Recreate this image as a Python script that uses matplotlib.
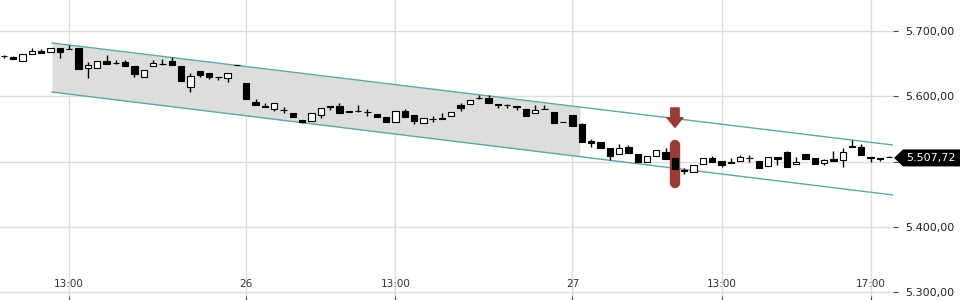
import matplotlib.pyplot as plt
import matplotlib.transforms as mtransforms
from matplotlib.patches import Polygon
import numpy as np

# 15-minute candles
opens = [5662.0, 5660.2, 5654.0, 5664.8, 5669.4, 5668.0, 5674.0, 5673.0, 5674.0, 5643.4,
         5643.4, 5654.0, 5651.0, 5652.6, 5646.5, 5629.6, 5646.5, 5649.5, 5654.0, 5646.5,
         5614.3, 5638.8, 5635.7, 5629.6, 5628.0, 5648.0, 5620.4, 5591.3, 5585.2, 5580.6,
         5579.3, 5574.5, 5563.8, 5562.3, 5571.4, 5585.2, 5585.2, 5576.0, 5577.6, 5576.5,
         5573.0, 5568.4, 5560.7, 5577.6, 5571.4, 5559.2, 5565.8, 5566.8, 5569.9, 5586.7,
         5588.3, 5597.5, 5597.5, 5588.3, 5587.2, 5585.2, 5580.6, 5574.5, 5581.0, 5576.0,
         5561.0, 5571.4, 5557.7, 5531.6, 5530.1, 5520.9, 5511.7, 5522.4, 5511.7, 5499.5,
         5508.7, 5514.8, 5505.6, 5486.5, 5484.2, 5496.4, 5505.6, 5501.0, 5499.5, 5501.0,
         5506.0, 5501.0, 5493.3, 5507.1, 5514.8, 5496.4, 5511.7, 5505.6, 5497.9, 5504.1,
         5502.5, 5524.0, 5522.4, 5507.1, 5505.6, 5507.8]
highs = [5663.3, 5661.0, 5665.5, 5674.0, 5672.5, 5674.5, 5674.5, 5678.6, 5674.5, 5652.6,
         5654.5, 5663.3, 5655.6, 5655.6, 5647.0, 5641.0, 5655.6, 5657.0, 5660.0, 5647.0,
         5635.7, 5639.3, 5636.0, 5630.0, 5636.0, 5648.3, 5621.0, 5596.0, 5589.8, 5590.3,
         5583.7, 5575.0, 5564.2, 5575.0, 5582.7, 5585.7, 5589.8, 5578.0, 5586.7, 5580.6,
         5573.5, 5569.0, 5578.0, 5580.6, 5572.0, 5567.3, 5569.9, 5574.5, 5576.5, 5589.8,
         5594.9, 5602.1, 5602.1, 5588.8, 5587.7, 5585.7, 5581.0, 5586.7, 5586.7, 5576.5,
         5561.0, 5572.0, 5559.2, 5534.7, 5530.6, 5521.4, 5527.0, 5525.5, 5512.2, 5509.2,
         5518.4, 5520.9, 5506.1, 5490.3, 5495.4, 5506.1, 5508.7, 5501.5, 5505.6, 5510.2,
         5510.2, 5501.5, 5507.6, 5507.6, 5516.3, 5507.1, 5512.2, 5506.1, 5504.1, 5516.3,
         5520.9, 5533.2, 5527.0, 5507.6, 5506.1, 5508.0]
lows = [5658.7, 5656.5, 5653.5, 5664.5, 5666.0, 5667.5, 5658.7, 5672.0, 5641.5, 5628.0,
        5643.0, 5649.0, 5650.0, 5646.0, 5629.6, 5629.0, 5646.0, 5648.5, 5647.5, 5623.0,
        5606.6, 5629.6, 5626.6, 5625.0, 5622.0, 5647.3, 5595.5, 5586.0, 5583.2, 5577.6,
        5574.5, 5568.0, 5559.2, 5561.8, 5566.8, 5579.1, 5574.0, 5575.6, 5576.3, 5569.9,
        5568.0, 5560.2, 5560.2, 5568.0, 5557.7, 5558.7, 5560.7, 5565.0, 5569.4, 5577.6,
        5587.8, 5596.5, 5589.3, 5582.2, 5582.2, 5579.1, 5569.4, 5574.0, 5580.0, 5558.7,
        5560.5, 5554.0, 5529.6, 5522.4, 5520.4, 5502.5, 5511.2, 5512.8, 5499.0, 5499.0,
        5508.2, 5503.6, 5488.3, 5481.1, 5483.7, 5495.9, 5499.0, 5491.8, 5497.4, 5500.5,
        5499.5, 5489.8, 5492.8, 5494.9, 5491.3, 5496.0, 5503.6, 5495.9, 5494.9, 5500.5,
        5491.8, 5522.0, 5509.7, 5499.5, 5501.0, 5507.5]
closes = [5661.5, 5657.2, 5665.0, 5669.4, 5666.3, 5674.0, 5668.0, 5672.5, 5642.0, 5648.0,
          5654.0, 5649.5, 5650.5, 5646.5, 5634.0, 5640.3, 5651.0, 5649.0, 5648.0, 5623.5,
          5631.0, 5632.7, 5629.6, 5629.0, 5635.7, 5647.5, 5596.0, 5586.7, 5583.7, 5589.8,
          5578.8, 5568.4, 5560.7, 5574.5, 5582.2, 5583.7, 5574.5, 5577.6, 5576.8, 5575.5,
          5568.4, 5560.7, 5577.6, 5568.4, 5562.3, 5566.8, 5565.0, 5565.3, 5576.0, 5582.2,
          5594.4, 5597.0, 5589.8, 5586.7, 5586.2, 5583.7, 5569.9, 5579.1, 5580.3, 5559.2,
          5560.5, 5554.6, 5530.1, 5528.6, 5520.9, 5508.7, 5520.9, 5513.3, 5499.5, 5508.7,
          5517.9, 5504.1, 5488.8, 5485.2, 5494.9, 5505.6, 5499.5, 5494.9, 5497.9, 5507.1,
          5505.2, 5490.3, 5507.1, 5504.1, 5491.8, 5499.5, 5504.1, 5496.4, 5502.5, 5501.0,
          5514.8, 5522.4, 5510.2, 5505.6, 5504.1, 5507.72]

tick_pos = [7, 26, 42, 61, 77, 93]
tick_labels = ["13:00", "26", "13:00", "27", "13:00", "17:00"]
price_ticks = [5300, 5400, 5500, 5600, 5700]

# trend channel
channel_x = [5.15, 95.4]
channel_upper = [5681.7, 5525.5]
channel_lower = [5606.6, 5449.0]
shade_end = 61.8

# signal marker
signal_idx = 72
arrow_from, arrow_to = 5582.2, 5552.5
bar_from, bar_to = 5525.5, 5467.3


def de_fmt(v):
    return f"{v:,.2f}".replace(",", "X").replace(".", ",").replace("X", ".")


x = np.arange(len(opens))
o = np.array(opens)
c = np.array(closes)
up = c >= o
last = closes[-1]

fig = plt.figure(figsize=(9.6, 3), dpi=100)
ax = fig.add_axes([0, 0, 893 / 960, 1])
ax.set_xlim(-0.43, 95.4)
ax.set_ylim(5288.2, 5747.5)

for s in ax.spines.values():
    s.set_visible(False)

ax.grid(True, color="#dddddd", lw=1, zorder=0)
ax.set_axisbelow(True)

# channel
cx = np.array(channel_x)
cu = np.array(channel_upper)
cl = np.array(channel_lower)
sx = np.array([channel_x[0], shade_end])
su = np.interp(sx, cx, cu)
sl = np.interp(sx, cx, cl)
ax.fill_between(sx, sl, su, color="#dddddd", lw=0, zorder=1)
ax.plot(cx, cu, color="#5ea7aa", lw=1, zorder=2)
ax.plot(cx, cl, color="#5ea7aa", lw=1, zorder=2)

# signal bar + arrow
ax.plot([signal_idx, signal_idx], [bar_from, bar_to], color="#9b3b36",
        lw=7.5, solid_capstyle="round", zorder=3)
ax.annotate("", xy=(signal_idx, arrow_to), xytext=(signal_idx, arrow_from),
            arrowprops=dict(arrowstyle="simple,head_length=0.7,head_width=1.15,tail_width=0.6",
                            color="#9b3b36", shrinkA=0, shrinkB=0, mutation_scale=10),
            zorder=6)

# candles
ax.vlines(x, lows, highs, color="black", lw=1, zorder=4)
bottoms = np.minimum(o, c)
heights = np.maximum(np.abs(c - o), 0.01)
ax.bar(x, heights, bottom=bottoms, width=0.68,
       color=np.where(up, "white", "black"), edgecolor="black", lw=0.8, zorder=5)

# axes ticks
ax.set_xticks(tick_pos)
ax.set_xticklabels(tick_labels)
ax.tick_params(axis="x", direction="in", length=3, color="#555555", pad=-15,
               labelsize=7.5, labelcolor="#333333")
ax.yaxis.tick_right()
ax.set_yticks(price_ticks)
# the last-price tag covers the label nearest to it
ax.set_yticklabels(["" if abs(v - last) < 30 else de_fmt(v) for v in price_ticks])
ax.tick_params(axis="y", direction="out", length=3.6, color="#444444", pad=5,
               labelsize=8, labelcolor="#222222")

# last price tag
trans = mtransforms.blended_transform_factory(ax.transAxes, ax.transData)
tip = 1 + 1 / 893
bx0 = 1 + 10 / 893
bx1 = 1 + 67 / 893
hh = 13
tag = Polygon([(tip, last - 2), (bx0, last + hh - 2), (bx1, last + hh - 2),
               (bx1, last - hh - 2), (bx0, last - hh - 2)],
              closed=True, transform=trans, facecolor="black", edgecolor="none", clip_on=False, zorder=7)
ax.add_patch(tag)
ax.text(1 + 13 / 893, last - 2, de_fmt(last), transform=trans, color="white", fontsize=8,
        va="center", ha="left", clip_on=False, zorder=8)

fig.savefig("out.png", dpi=100)
